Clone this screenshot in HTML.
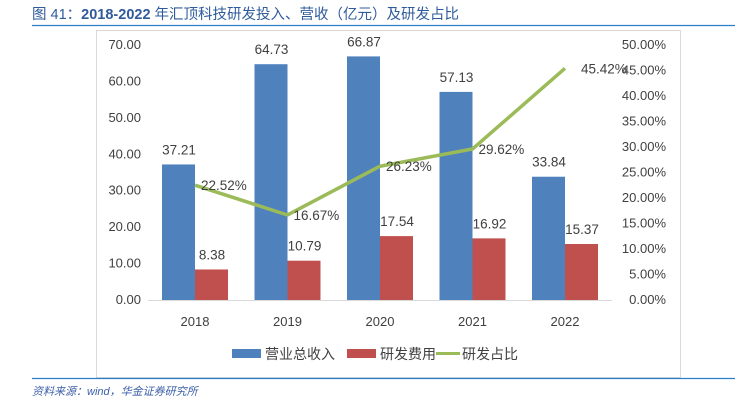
<!DOCTYPE html>
<html><head><meta charset="utf-8"><style>
body{margin:0;width:735px;height:411px;background:#fff;overflow:hidden;font-family:"Liberation Sans","Noto Sans CJK SC",sans-serif;}
</style></head><body>
<svg width="735" height="411" xmlns="http://www.w3.org/2000/svg">
<text x="32" y="19" font-size="14.5" fill="#2f5b9c" font-family="Liberation Sans, Noto Sans CJK SC, sans-serif">图 41：<tspan font-weight="bold">2018-2022</tspan> 年汇顶科技研发投入、营收（亿元）及研发占比</text>
<line x1="32" y1="25.5" x2="735" y2="25.5" stroke="#2a7fc9" stroke-width="1.2"/>
<rect x="96.5" y="30.5" width="584" height="347" fill="#fff" stroke="#d9d9d9"/>
<g id="g"></g>
<line x1="32" y1="378.5" x2="735" y2="378.5" stroke="#2a7fc9" stroke-width="1.2"/>
<text x="32" y="395" font-size="11" font-style="italic" fill="#3b5fa8">资料来源：wind，华金证券研究所</text>
</svg>
<script>
const categories=["2018","2019","2020","2021","2022"];
const revenue=[37.21,64.73,66.87,57.13,33.84];
const rdExpense=[8.38,10.79,17.54,16.92,15.37];
const rdRatio=[22.52,16.67,26.23,29.62,45.42];
const leftTicks=[0,10,20,30,40,50,60,70];
const rightTicks=[0,5,10,15,20,25,30,35,40,45,50];
const NS="http://www.w3.org/2000/svg";
const g=document.getElementById('g');
const y0=300,yTop=45;
const yL=v=>y0-v/70*(y0-yTop);
const yR=v=>y0-v/50*(y0-yTop);
const xC=i=>195+i*92.5;
function mk(t,a,txt){const e=document.createElementNS(NS,t);for(const k in a)e.setAttribute(k,a[k]);if(txt!==undefined)e.textContent=txt;g.appendChild(e);return e;}
leftTicks.forEach(v=>{const e=mk('text',{x:141,y:yL(v)+4,'font-size':13,fill:'#404040','text-anchor':'end'},v.toFixed(2));

});
rightTicks.forEach(v=>{const e=mk('text',{x:666,y:yR(v)+4,'font-size':13,fill:'#404040','text-anchor':'end'},v.toFixed(2)+'%');

});
const ax=mk('line',{x1:148,y1:y0+0.5,x2:612,y2:y0+0.5,stroke:'#d9d9d9'});


categories.forEach((c,i)=>{
 const x=xC(i);
 const b=mk('rect',{x:x-33,y:yL(revenue[i]),width:33,height:y0-yL(revenue[i]),fill:'#4f81bd'});
 
 
 const r=mk('rect',{x:x,y:yL(rdExpense[i]),width:33,height:y0-yL(rdExpense[i]),fill:'#c0504d'});
 
 
 const t1=mk('text',{x:x-16,y:yL(revenue[i])-10,'font-size':13.5,fill:'#404040','text-anchor':'middle'},revenue[i].toFixed(2));
 
 
 const t2=mk('text',{x:x+17,y:yL(rdExpense[i])-10,'font-size':13.5,fill:'#404040','text-anchor':'middle'},rdExpense[i].toFixed(2));
 
 
 const cl=mk('text',{x:x,y:326,'font-size':13,fill:'#404040','text-anchor':'middle'},c);
 
 
});
const pl=mk('polyline',{points:rdRatio.map((v,i)=>xC(i)+','+yR(v)).join(' '),fill:'none',stroke:'#9bbb59','stroke-width':3.5});


rdRatio.forEach((v,i)=>{const t=mk('text',{x:xC(i)+(i===4?16:6),y:yR(v)+5,'font-size':13.5,fill:'#404040'},v.toFixed(2)+'%');

});
const leg=[['rect','#4f81bd','营业总收入',232,265],['rect','#c0504d','研发费用',347,380],['line','#9bbb59','研发占比',436,462]];
leg.forEach(([k,c,txt,x,tx])=>{
 let m;
 if(k==='rect')m=mk('rect',{x:x,y:349,width:29,height:9,fill:c});
 else m=mk('rect',{x:x,y:352,width:24,height:3,fill:c});
 
 
 const t=mk('text',{x:tx,y:359,'font-size':14,fill:'#404040'},txt);
 
 
});
</script>
</body></html>
